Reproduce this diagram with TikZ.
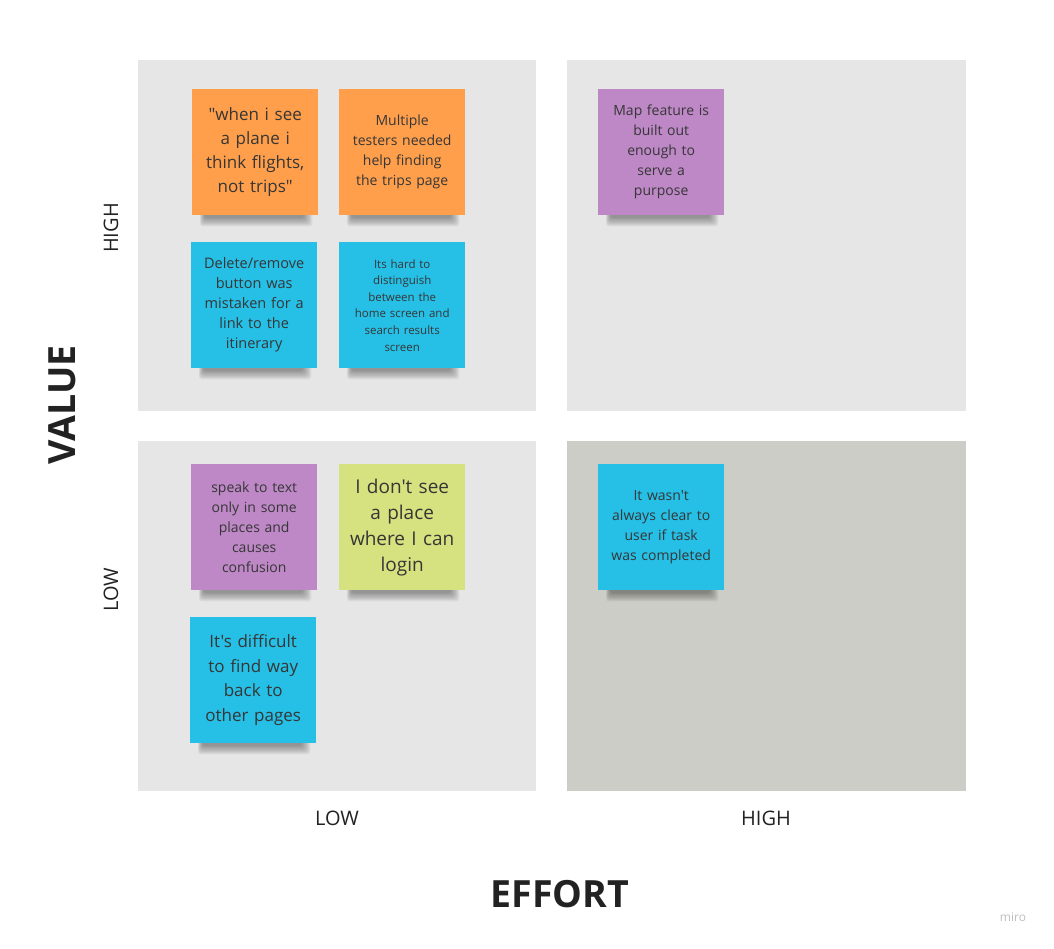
\documentclass[tikz,border=0pt]{standalone}
\usepackage{fontspec}
\setmainfont{Open Sans}
% plain family without TeX quote mapping, so quotes stay straight
\newfontfamily\notefont{Open Sans}
\usetikzlibrary{calc}
\definecolor{quadlight}{HTML}{E6E6E6}
\definecolor{quaddark}{HTML}{CDCDC8}
\definecolor{notorange}{HTML}{FF9F4C}
\definecolor{notblue}{HTML}{26BFE6}
\definecolor{notpurple}{HTML}{BE88C7}
\definecolor{notlime}{HTML}{D5E27F}
\definecolor{notetext}{HTML}{363636}
\definecolor{labeltext}{HTML}{222222}
\tikzset{
  quad/.style={fill=quadlight, draw=none},
  sticky/.style={anchor=north west, minimum width=126pt, minimum height=126pt,
    inner sep=0pt, text width=118pt, align=center, text=notetext, fill=#1},
  fs/.style 2 args={font=\notefont\fontsize{#1}{#2}\selectfont},
  axislabel/.style={text=labeltext, font=\notefont\fontsize{20}{24}\selectfont},
  axistitle/.style={text=labeltext, font=\notefont\bfseries\fontsize{37.5}{44}\selectfont},
}
% soft shadow under the bottom edge of a sticky note
\newcommand\noteshadow[1]{%
  \foreach \k in {0,...,7}{%
    \fill[black, opacity=0.05, rounded corners=3pt]
      ($(#1.south west)+(8+0.6*\k,-4)$) rectangle ($(#1.south east)+(-6-1.2*\k,11-1.2*\k)$);
  }%
}
% the nine sticky notes; #1 = options for every note
\newcommand\drawnotes[1]{%
  \path
    (192,89)  node[sticky=notorange, fs={17}{24}, #1] (n1)
      {"when i see\\a plane i\\think flights,\\not trips"}
    (339,89)  node[sticky=notorange, fs={14}{20}, #1] (n2)
      {Multiple\\testers needed\\help finding\\the trips page}
    (191,242) node[sticky=notblue, fs={14.5}{20}, #1] (n3)
      {Delete/remove\\button was\\mistaken for a\\link to the\\itinerary}
    (339,242) node[sticky=notblue, fs={11.5}{16.6}, #1] (n4)
      {Its hard to\\distinguish\\between the\\home screen and\\search results\\screen}
    (598,89)  node[sticky=notpurple, fs={14}{20}, #1] (n5)
      {Map feature is\\built out\\enough to\\serve a\\purpose}
    (191,464) node[sticky=notpurple, fs={14}{20}, #1] (n6)
      {speak to text\\only in some\\places and\\causes\\confusion}
    (339,464) node[sticky=notlime, fs={19}{26}, #1] (n7)
      {I don't see\\a place\\where I can\\login}
    (190,617) node[sticky=notblue, fs={17}{24.5}, #1] (n8)
      {It's difficult\\to find way\\back to\\other pages}
    (598,464) node[sticky=notblue, fs={14}{20}, #1] (n9)
      {It wasn't\\always clear to\\user if task\\was completed};
}
\begin{document}
\begin{tikzpicture}[x=1pt,y=-1pt]
  \useasboundingbox (0,0) rectangle (1054,948);
  \fill[white] (0,0) rectangle (1054,948);

  % quadrants
  \fill[quad] (138,60) rectangle (536,411);
  \fill[quad] (567,60) rectangle (966,411);
  \fill[quad] (138,441) rectangle (536,791);
  \fill[quaddark] (567,441) rectangle (966,791);

  % notes are placed once to get their anchors, shadows drawn, then notes on top
  \drawnotes{}
  \noteshadow{n1}\noteshadow{n2}\noteshadow{n3}\noteshadow{n4}\noteshadow{n5}
  \noteshadow{n6}\noteshadow{n7}\noteshadow{n8}\noteshadow{n9}
  \drawnotes{}

  % axis labels
  \node[axislabel, rotate=90] (vhigh) at (111,228) {HIGH};
  \node[axislabel, rotate=90] (vlow)  at (111,590) {LOW};
  \node[axislabel] (elow)  at (337,818) {LOW};
  \node[axislabel] (ehigh) at (766,818) {HIGH};
  \node[axistitle, rotate=90] (value)  at (62,405)  {VALUE};
  \node[axistitle]            (effort) at (560,894) {EFFORT};

  % board watermark
  \node[text=black!25, font=\notefont\fontsize{12}{14}\selectfont] (mark) at (1013,917) {miro};
\end{tikzpicture}
\end{document}
